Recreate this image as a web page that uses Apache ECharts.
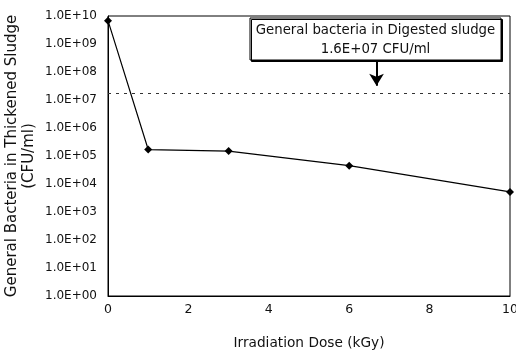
<!DOCTYPE html>
<html>
<head>
<meta charset="utf-8">
<script src="https://cdn.jsdelivr.net/npm/echarts@6/dist/echarts.min.js"></script>
<style>
  html, body { margin: 0; padding: 0; background: #fff; }
  #main { width: 516px; height: 352px; }
</style>
</head>
<body>
<div id="main"></div>
<script>
// 数据
var doses = [0, 1, 3, 6, 10];
var bacteria = [6.8e9, 1.7e5, 1.5e5, 4.5e4, 5.2e3];
var digestedLevel = 1.75e7;
var arrowX = 6.68;
var arrowFrom = 2.3e8;
var arrowTo = 3.2e7;
var noteLines = ['General bacteria in Digested sludge', '1.6E+07 CFU/ml'];

var FONT = 'DejaVu Sans';

var chart = echarts.init(document.getElementById('main'));

function sciLabel(v) {
    var e = Math.round(Math.log10(v));
    return '1.0E+' + (e < 10 ? '0' + e : e);
}

var option = {
    animation: false,
    backgroundColor: '#fff',
    grid: {
        left: 108, right: 6, top: 16, bottom: 56,
        outerBoundsMode: 'none',
        containLabel: false,
        show: true, borderColor: '#000', borderWidth: 1,
        backgroundColor: 'transparent'
    },
    xAxis: {
        type: 'value',
        min: 0, max: 10, interval: 2,
        name: 'Irradiation Dose (kGy)',
        nameLocation: 'middle',
        nameGap: 40,
        nameMoveOverlap: false,
        nameTextStyle: { fontFamily: FONT, fontSize: 13.7, color: '#111' },
        axisLine: { lineStyle: { color: '#000', width: 1 } },
        axisTick: { show: false },
        splitLine: { show: false },
        axisLabel: { fontFamily: FONT, fontSize: 12.5, color: '#111', margin: 7 }
    },
    yAxis: {
        type: 'log',
        logBase: 10,
        min: 1, max: 1e10,
        interval: 1,
        splitNumber: 10,
        name: 'General Bacteria in Thickened Sludge\n(CFU/ml)',
        nameLocation: 'middle',
        nameGap: 70,
        nameMoveOverlap: false,
        nameTextStyle: { fontFamily: FONT, fontSize: 15, lineHeight: 17, color: '#111' },
        axisLine: { lineStyle: { color: '#000', width: 1 } },
        axisTick: { show: false },
        splitLine: { show: false },
        axisLabel: {
            fontFamily: FONT, fontSize: 12, color: '#111', margin: 11,
            formatter: sciLabel
        }
    },
    series: [{
        type: 'line',
        data: doses.map(function (d, i) { return [d, bacteria[i]]; }),
        symbol: 'diamond',
        symbolSize: 8,
        lineStyle: { color: '#000', width: 1.2 },
        itemStyle: { color: '#000' },
        markLine: {
            silent: true,
            symbol: 'none',
            label: { show: false },
            data: [
                [
                    { coord: [0, digestedLevel], lineStyle: { color: '#333', width: 1, type: [3, 5] } },
                    { coord: [10, digestedLevel] }
                ],
                [
                    { coord: [arrowX, arrowFrom], lineStyle: { color: '#000', width: 2, type: 'solid' } },
                    { coord: [arrowX, arrowTo], symbol: 'arrow', symbolSize: [11, 12] }
                ]
            ]
        }
    }],
    graphic: [
        {
            type: 'rect',
            shape: { x: 250, y: 18, width: 251, height: 42 },
            style: {
                fill: '#fff', stroke: '#000', lineWidth: 1,
                shadowColor: '#000', shadowOffsetX: 1.5, shadowOffsetY: 1.5, shadowBlur: 0
            },
            z: 10
        },
        {
            type: 'text',
            x: 375.5, y: 31,
            style: {
                text: noteLines[0], fill: '#111',
                font: '13.3px "' + FONT + '"',
                textAlign: 'center', textVerticalAlign: 'middle'
            },
            z: 11
        },
        {
            type: 'text',
            x: 375.5, y: 50,
            style: {
                text: noteLines[1], fill: '#111',
                font: '13.3px "' + FONT + '"',
                textAlign: 'center', textVerticalAlign: 'middle'
            },
            z: 11
        }
    ]
};

chart.setOption(option);
</script>
</body>
</html>
